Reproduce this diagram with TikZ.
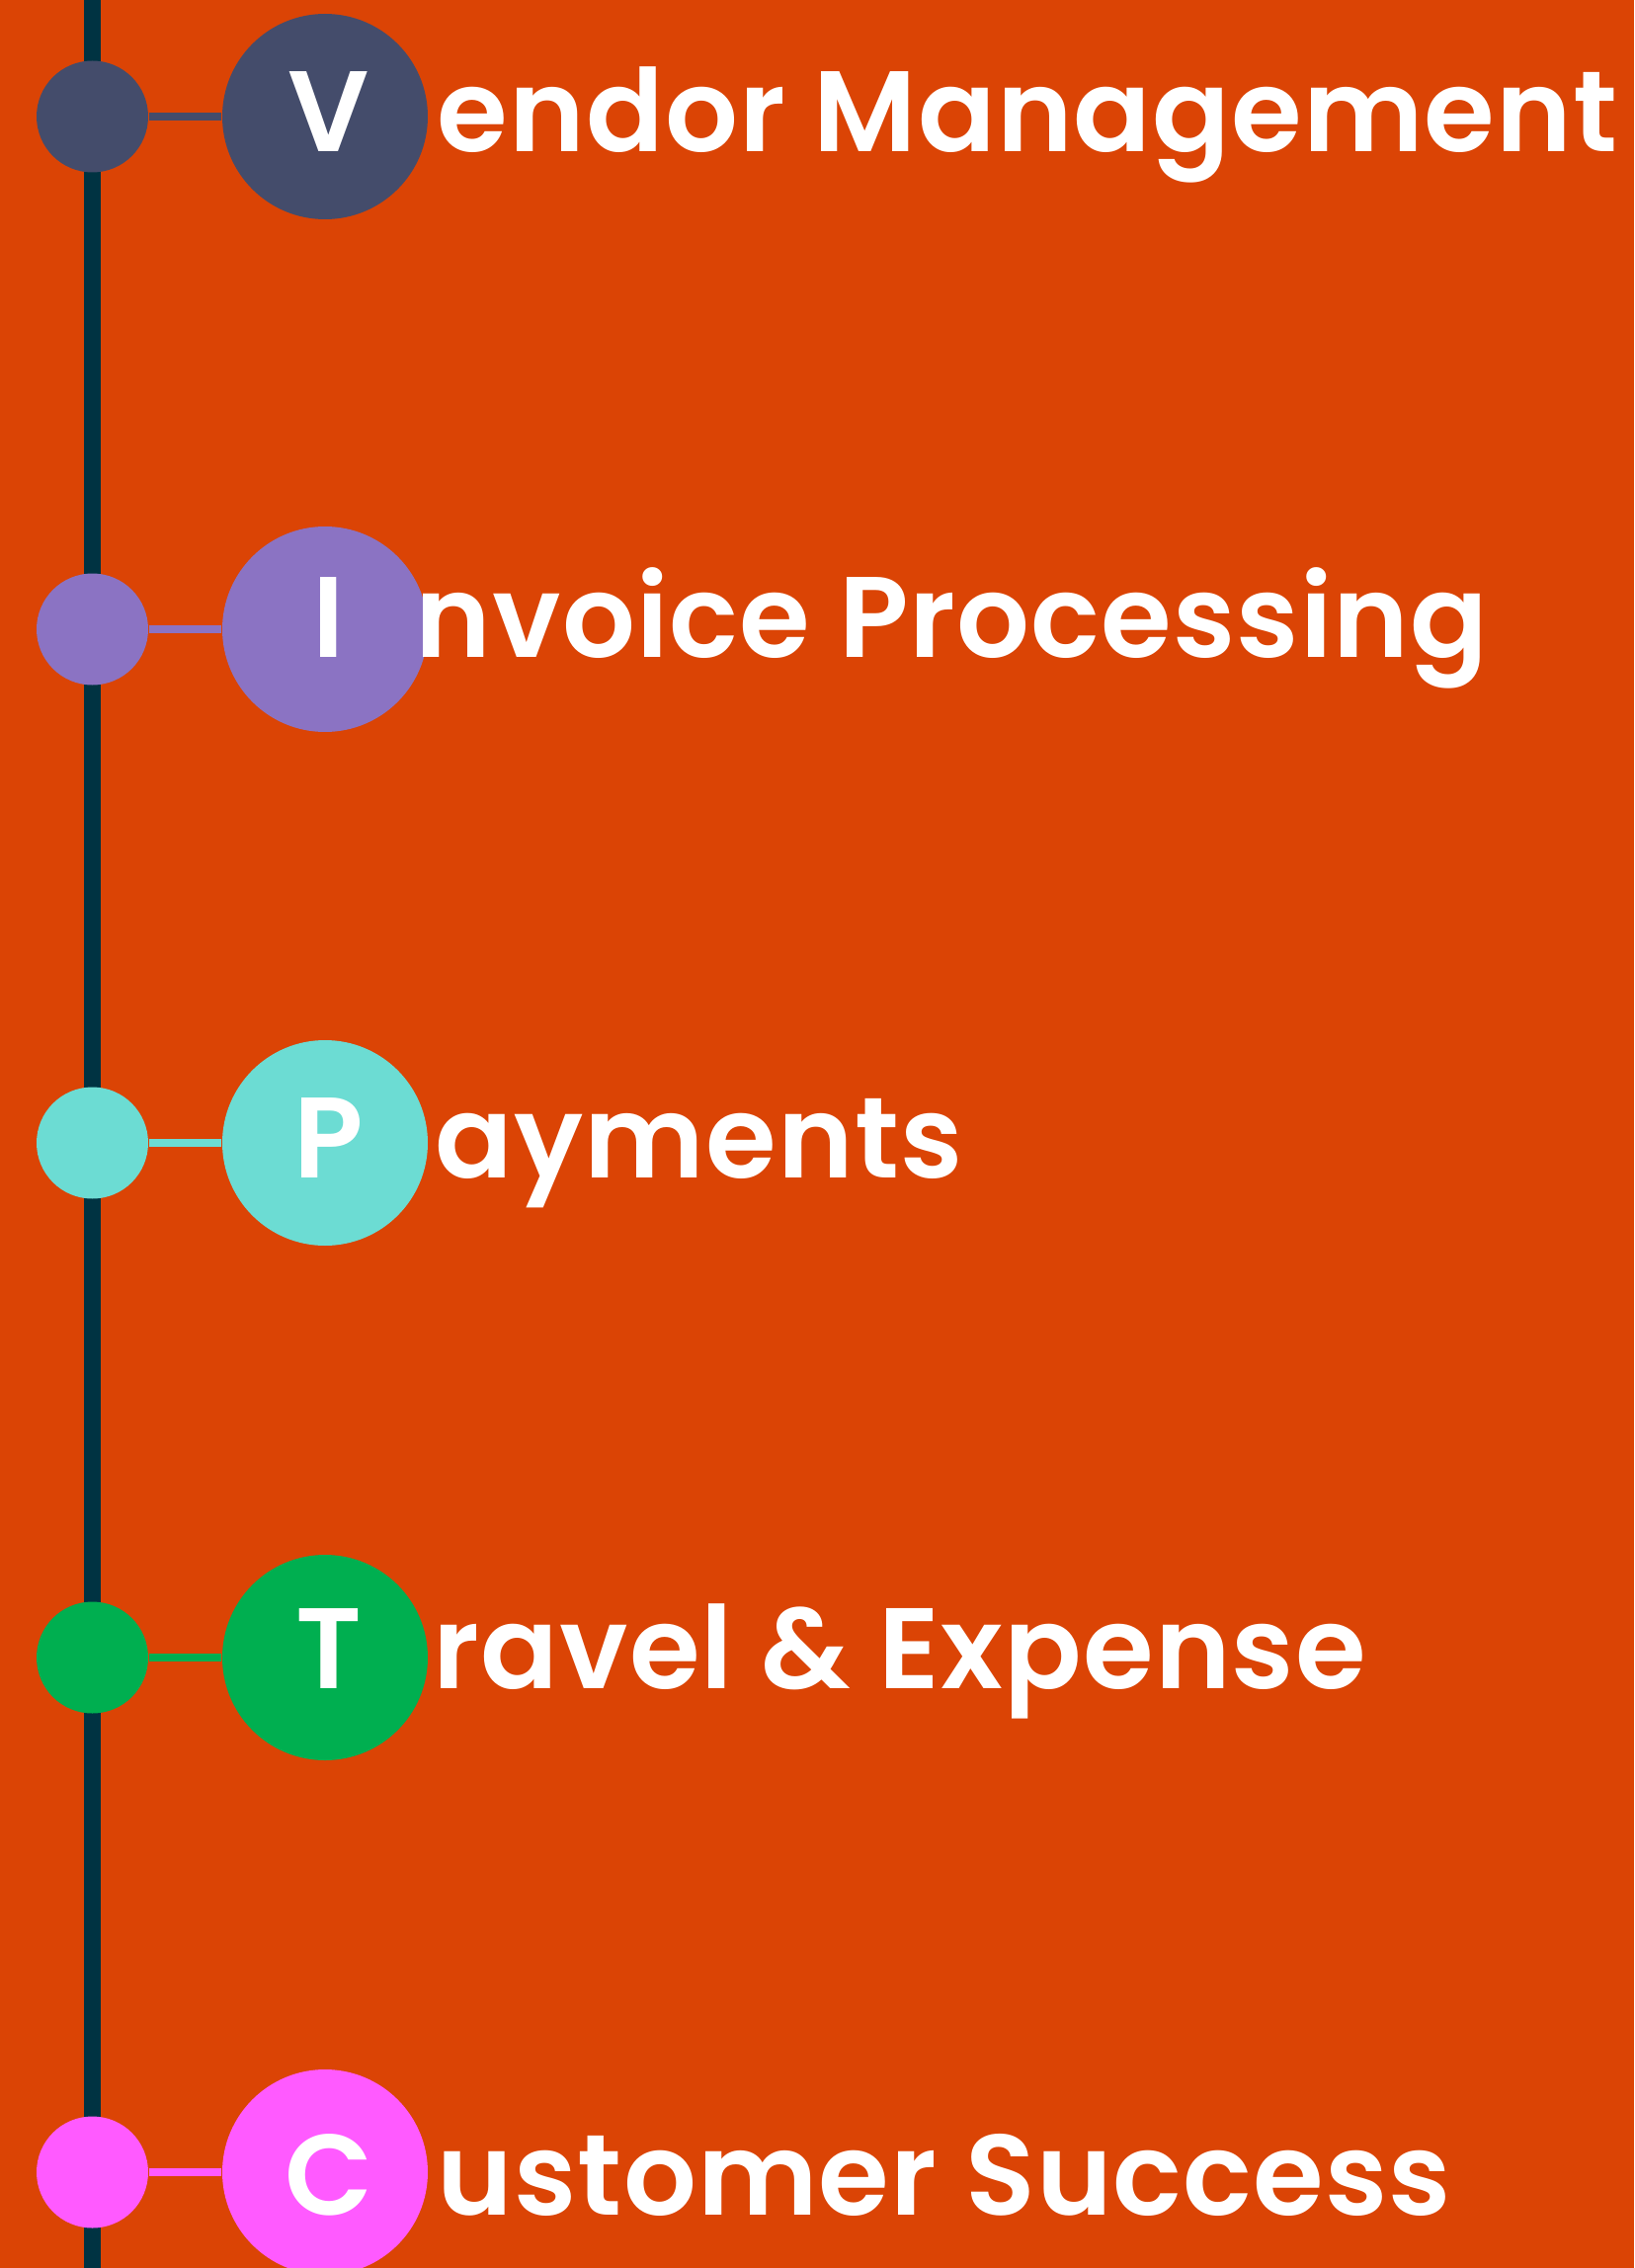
\documentclass[tikz,border=0pt]{standalone}
\usepackage{fontspec}
\setmainfont{Poppins}[BoldFont={Poppins SemiBold}, BoldFeatures={LetterSpace=1}]

\definecolor{bgorange}{HTML}{DB4405}
\definecolor{spinecol}{HTML}{003342}
\definecolor{vendorcol}{HTML}{444C6B}
\definecolor{invoicecol}{HTML}{8B73C3}
\definecolor{paycol}{HTML}{6CDCD3}
\definecolor{travelcol}{HTML}{00AF50}
\definecolor{custcol}{HTML}{FF5AFF}

\tikzset{
  dot/.style={circle, inner sep=0pt, minimum size=11.3mm},
  badge/.style={circle, inner sep=0pt, minimum size=20.8mm},
  link/.style={line width=0.8mm},
  spine/.style={draw=spinecol, line width=1.7mm},
  initial/.style={anchor=base, inner sep=0pt, text=white, font=\fontsize{33pt}{36pt}\selectfont\bfseries},
  caption/.style={anchor=base west, inner sep=0pt, text=white, font=\fontsize{33pt}{36pt}\selectfont\bfseries}
}

\begin{document}
\begin{tikzpicture}[x=0.1mm, y=-0.1mm]
%background
\fill[bgorange] (0,0) rectangle (1654,2296);
\useasboundingbox (0,0) rectangle (1654,2296);
%spine
\coordinate (top) at (93.5,0);
\coordinate (bottom) at (93.5,2296);
\draw[spine] (top) -- (bottom);
%one row per topic: centre y / text baseline / text x / colour / initial / rest
\foreach \i/\y/\by/\tx/\col/\ini/\rest in {
  1/118/154/442/vendorcol/V/endor Management,
  2/637/665/420/invoicecol/I/nvoice Processing,
  3/1157/1192/440/paycol/P/ayments,
  4/1678/1709/438/travelcol/T/ravel \& Expense,
  5/2199/2242/442/custcol/C/ustomer Success}
{
  \node[dot, fill=\col] (dot\i) at (93.5,\y) {};
  \node[badge, fill=\col] (badge\i) at (329,\y) {};
  \draw[link, draw=\col] (dot\i) -- (badge\i);
  \node[initial] (ini\i) at (333,\by) {\ini};
  \node[caption] (text\i) at (\tx,\by) {\rest};
}
\end{tikzpicture}
\end{document}
